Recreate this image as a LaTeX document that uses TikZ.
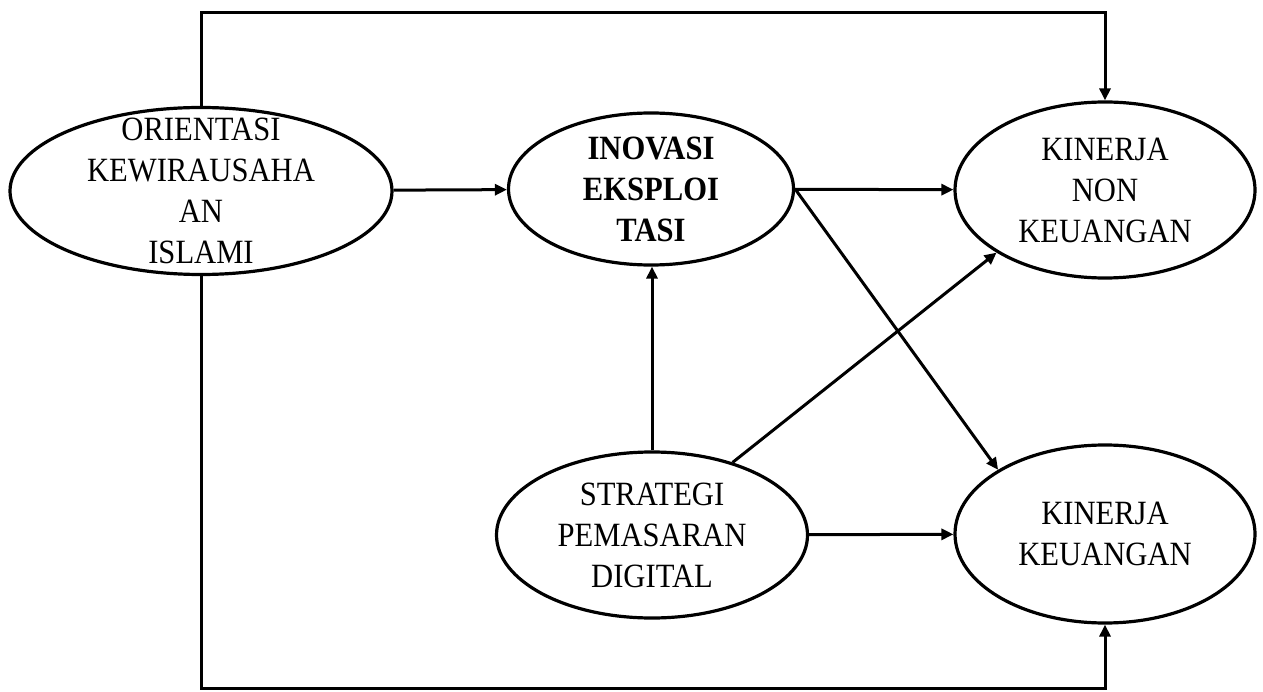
\documentclass[tikz,border=0pt]{standalone}
\usepackage{fontspec}
\setmainfont[FakeStretch=0.9]{Liberation Serif}
\usetikzlibrary{shapes.geometric,arrows.meta}
\begin{document}
\begin{tikzpicture}[x=1pt,y=-1pt,
  ell/.style={draw, ellipse, line width=3.2pt, inner sep=0pt},
  lbl/.style={align=center, font=\fontsize{34}{41}\selectfont, inner sep=0pt},
  arr/.style={line width=3pt, -{Triangle[length=12pt,width=11pt]}},
  ln/.style={line width=3pt}]
\useasboundingbox (0,0) rectangle (1263,692);
\node[ell, minimum width=382pt, minimum height=167pt] (oki) at (201,191) {};
\node[ell, minimum width=285pt, minimum height=152pt] (ino) at (651,189) {};
\node[ell, minimum width=300pt, minimum height=176pt] (knk) at (1105,190) {};
\node[ell, minimum width=311pt, minimum height=166pt] (spd) at (652,535) {};
\node[ell, minimum width=300pt, minimum height=178pt] (kk) at (1105,534) {};
\node[lbl] (okit) at (oki) {ORIENTASI\\KEWIRAUSAHA\\AN\\ISLAMI};
\node[lbl, font=\fontsize{34}{41}\selectfont\bfseries] (inot) at (ino) {INOVASI\\EKSPLOI\\TASI};
\node[lbl] (knkt) at (knk) {KINERJA\\NON\\KEUANGAN};
\node[lbl] (spdt) at (spd) {STRATEGI\\PEMASARAN\\DIGITAL};
\node[lbl] (kkt) at (kk) {KINERJA\\KEUANGAN};
\coordinate (tl) at (201,13);
\coordinate (tr) at (1105,13);
\coordinate (bl) at (201,688);
\coordinate (br) at (1105,688);
\draw[arr] (oki.north) -- (tl) -- (tr) -- (knk.north);
\draw[arr] (oki.south) -- (bl) -- (br) -- (kk.south);
\draw[arr] (oki) -- (ino);
\draw[arr] (ino) -- (knk);
\draw[arr] (ino.east) -- (kk.149);
\draw[arr] (spd.north) -- (spd.north |- ino.south);
\draw[arr] (spd.42) -- (knk.210);
\draw[arr] (spd) -- (kk);
\end{tikzpicture}
\end{document}
